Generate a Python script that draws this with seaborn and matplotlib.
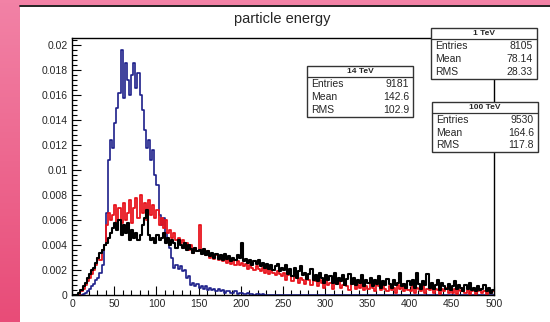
import numpy as np
import pandas as pd
import seaborn as sns
import matplotlib.pyplot as plt
from matplotlib.patches import Rectangle
from matplotlib.ticker import MultipleLocator, FuncFormatter

# bin contents, units of 1e-4, 200 bins of width 2.5 from 0 to 500
bin_width = 2.5
e1_tev = [0, 0, 0, 0, 0, 1, 2, 3, 5, 7,
          9, 12, 14, 18, 24, 40, 66, 108, 124, 118,
          138, 150, 162, 196, 158, 186, 172, 160, 176, 186,
          166, 178, 160, 148, 132, 118, 124, 108, 116, 96,
          88, 64, 56, 62, 50, 44, 38, 30, 22, 24,
          21, 23, 19, 20, 14, 15, 8, 10, 7, 9,
          6, 7, 5, 7, 4, 6, 4, 5, 3, 5,
          3, 4, 2, 3, 3, 2, 2, 3, 1, 2,
          2, 1, 1, 2, 1, 1, 0, 1, 1, 0,
          1, 0] + [0] * 108
e14_tev = [0, 0, 0, 1, 3, 5, 8, 11, 14, 17,
           20, 24, 30, 28, 36, 40, 56, 66, 60, 64,
           72, 56, 70, 58, 74, 60, 66, 76, 58, 70,
           78, 62, 80, 66, 74, 60, 76, 64, 72, 62,
           68, 56, 62, 54, 60, 50, 52, 46, 50, 44,
           46, 42, 44, 38, 42, 36, 40, 34, 38, 35,
           56, 34, 36, 32, 35, 30, 33, 29, 32, 28,
           30, 27, 29, 26, 28, 25, 28, 24, 27, 24,
           26, 23, 25, 21, 24, 22, 20, 23, 21, 19,
           22, 18, 21, 17, 20, 18, 16, 19, 17, 15,
           18, 12, 16, 19, 11, 15, 17, 10, 14, 12,
           9, 15, 12, 8, 13, 11, 7, 12, 10, 6,
           12, 8, 10, 5, 11, 9, 13, 6, 8, 10,
           7, 4, 9, 11, 5, 8, 6, 10, 4, 7,
           5, 9, 6, 3, 8, 7, 4, 9, 5, 3,
           7, 4, 6, 2, 8, 5, 9, 3, 6, 4,
           3, 7, 2, 6, 5, 3, 7, 2, 5, 4,
           6, 2, 5, 4, 1, 5, 3, 6, 2, 4,
           2, 5, 1, 4, 3, 6, 2, 4, 1, 3,
           4, 1, 3, 5, 2, 3, 1, 4, 2, 3]
e100_tev = [0, 0, 0, 2, 4, 7, 10, 14, 17, 20,
            22, 26, 30, 34, 36, 40, 42, 46, 50, 54,
            58, 52, 60, 48, 56, 50, 58, 44, 52, 46,
            50, 44, 48, 56, 62, 68, 48, 44, 46, 42,
            48, 44, 46, 50, 42, 46, 40, 44, 42, 38,
            44, 40, 38, 42, 36, 40, 37, 34, 38, 35,
            36, 33, 37, 32, 35, 31, 34, 30, 33, 29,
            32, 28, 33, 29, 31, 27, 30, 28, 32, 30,
            42, 27, 29, 26, 28, 24, 27, 25, 28, 23,
            26, 22, 25, 21, 24, 20, 23, 25, 19, 22,
            20, 24, 17, 21, 15, 22, 14, 19, 23, 16,
            18, 13, 17, 21, 12, 16, 11, 18, 14, 10,
            16, 12, 15, 10, 18, 9, 14, 11, 16, 8,
            13, 17, 9, 14, 8, 12, 10, 16, 7, 12,
            10, 14, 7, 12, 9, 15, 6, 11, 8, 13,
            9, 6, 12, 8, 10, 18, 7, 9, 6, 11,
            8, 12, 6, 18, 9, 5, 11, 8, 17, 6,
            10, 5, 8, 12, 4, 10, 7, 5, 9, 4,
            7, 11, 5, 8, 6, 3, 8, 5, 10, 4,
            6, 3, 7, 4, 5, 8, 3, 6, 2, 4]

labels = ["1 TeV", "14 TeV", "100 TeV"]
entries = ["8105", "9181", "9530"]
means = ["78.14", "142.6", "164.6"]
rms = ["28.33", "102.9", "117.8"]
colors = ["#1c1f8a", "#e8141c", "#000000"]

centers = np.arange(len(e1_tev)) * bin_width + bin_width / 2
rows = []
for lab, vals in zip(labels, [e1_tev, e14_tev, e100_tev]):
    for c, v in zip(centers, vals):
        rows.append((lab, c, v * 1e-4))
df = pd.DataFrame(rows, columns=["sample", "energy", "w"])

sns.set_theme(style="ticks")
plt.rcParams['font.family'] = ['Liberation Sans', 'DejaVu Sans']

W, H = 550, 322
fig = plt.figure(figsize=(5.5, 3.22), dpi=100)

# pink slide background with white panel
bg = fig.add_axes([0, 0, 1, 1], zorder=-10)
grad = np.linspace(0, 1, 100).reshape(-1, 1)
cmap = sns.blend_palette(["#f282a6", "#e84c78"], as_cmap=True)
bg.imshow(grad, aspect="auto", cmap=cmap, extent=[0, 1, 0, 1])
bg.add_patch(Rectangle((20 / W, 0), 1, 1 - 5 / H, color="white", lw=0))
bg.plot([20 / W, 1], [1 - 5.5 / H, 1 - 5.5 / H], color="#222222", lw=1.4)
bg.set_xlim(0, 1)
bg.set_ylim(0, 1)
bg.axis("off")

ax = fig.add_axes([72 / W, 1 - 295 / H, (494 - 72) / W, (295 - 38) / H])
lws = [1.2, 1.3, 1.5]
for lab, col, lw in zip(labels, colors, lws):
    sns.histplot(data=df[df["sample"] == lab], x="energy", weights="w",
                 binwidth=bin_width, binrange=(0, 500), element="step",
                 fill=False, color=col, linewidth=lw, ax=ax)

ax.set_xlim(0, 500)
ax.set_ylim(0, 0.0206)
ax.set_xlabel("")
ax.set_ylabel("")
ax.xaxis.set_major_locator(MultipleLocator(50))
ax.xaxis.set_minor_locator(MultipleLocator(10))
ax.yaxis.set_major_locator(MultipleLocator(0.002))
ax.yaxis.set_minor_locator(MultipleLocator(0.0004))
ax.yaxis.set_major_formatter(FuncFormatter(lambda v, p: "%g" % round(v, 4)))
ax.tick_params(which="both", direction="in", labelsize=7.5, color="black",
               top=False, right=False, width=0.8)
ax.tick_params(which="major", length=6.5, pad=3)
ax.tick_params(which="minor", length=3.5)
for sp in ax.spines.values():
    sp.set_visible(True)
    sp.set_color("black")
    sp.set_linewidth(1.0)

fig.text(282 / W, 1 - 19 / H, "particle energy", ha="center", va="center",
         fontsize=10.5)

# stats boxes, pixel layout (left, top, right, bottom, header line)
boxes = {"1 TeV": (431, 28, 537, 79, 39),
         "14 TeV": (307, 66, 413, 117, 77),
         "100 TeV": (432, 102, 538, 152, 113)}
for i, lab in enumerate(labels):
    x0, y0, x1, y1, yh = boxes[lab]
    fig.patches.append(Rectangle((x0 / W, 1 - y1 / H), (x1 - x0) / W, (y1 - y0) / H,
                                 transform=fig.transFigure, facecolor="white",
                                 edgecolor="#333333", lw=1.0, zorder=5))
    fig.lines.append(plt.Line2D([x0 / W, x1 / W], [1 - yh / H, 1 - yh / H],
                                transform=fig.transFigure, color="#333333",
                                lw=0.9, zorder=6))
    fig.text((x0 + x1) / 2 / W, 1 - (y0 + yh) / 2 / H, lab, ha="center",
             va="center", fontsize=6, fontweight="bold", zorder=7)
    step = (y1 - yh) / 3
    for j, (name, val) in enumerate(zip(["Entries", "Mean", "RMS"],
                                        [entries[i], means[i], rms[i]])):
        yy = 1 - (yh + step * (j + 0.5)) / H
        fig.text((x0 + 4) / W, yy, name, ha="left", va="center", fontsize=7.5,
                 zorder=7)
        fig.text((x1 - 4) / W, yy, val, ha="right", va="center", fontsize=7.5,
                 zorder=7)

fig.savefig("out.png", dpi=100)
